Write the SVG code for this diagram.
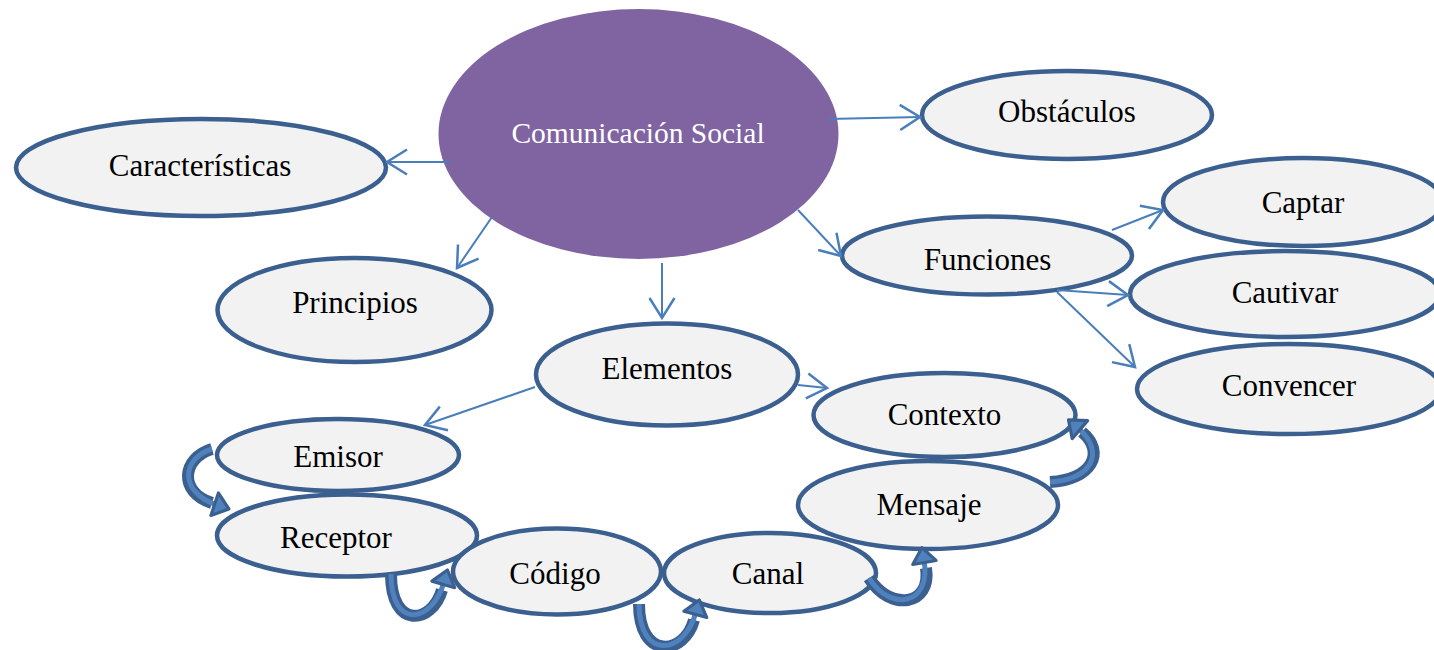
<svg xmlns="http://www.w3.org/2000/svg" width="1434" height="650" viewBox="0 0 1434 650">
<style>
.node{fill:#F2F2F2;stroke:#3B5F8F;stroke-width:4.5}
.root{fill:#8064A2}
.t{font-family:"Liberation Serif","Times New Roman",serif;font-size:31px;fill:#000;text-anchor:middle}
.tw{font-family:"Liberation Serif","Times New Roman",serif;font-size:29.5px;fill:#FFFFFF;text-anchor:middle}
.ln{fill:none;stroke:#4A7EBB;stroke-width:2;marker-end:url(#open)}
.bo{fill:none;stroke:#3B5F8F;stroke-width:12}
.bi{fill:none;stroke:#4F81BD;stroke-width:5;marker-end:url(#block)}
</style>
<defs>
<marker id="open" markerUnits="userSpaceOnUse" markerWidth="30" markerHeight="30" viewBox="-20 -12 24 24" refX="0" refY="0" orient="auto">
<path d="M-16,-10 L0,0 L-16,10" fill="none" stroke="#4A7EBB" stroke-width="2"/>
</marker>
<marker id="block" markerUnits="userSpaceOnUse" markerWidth="40" markerHeight="40" viewBox="-6 -16 26 32" refX="2" refY="0" orient="auto">
<path d="M0,-9.5 L12,0 L0,9.5 Z" fill="#4F81BD" stroke="#3B5F8F" stroke-width="2.5" stroke-linejoin="round"/>
</marker>
</defs>
<g id="n-comunicacion"><ellipse class="root" cx="638.5" cy="134" rx="200" ry="125"/><text class="tw" x="638" y="143">Comunicación Social</text></g>
<g id="n-caracteristicas"><ellipse class="node" cx="201" cy="167.5" rx="185" ry="48.5"/><text class="t" x="200" y="176">Características</text></g>
<g id="n-principios"><ellipse class="node" cx="354.5" cy="310" rx="137" ry="52"/><text class="t" x="355" y="313">Principios</text></g>
<g id="n-obstaculos"><ellipse class="node" cx="1067" cy="115" rx="145" ry="44"/><text class="t" x="1067" y="122">Obstáculos</text></g>
<g id="n-funciones"><ellipse class="node" cx="987" cy="255.5" rx="145" ry="39"/><text class="t" x="987.5" y="270">Funciones</text></g>
<g id="n-captar"><ellipse class="node" cx="1303" cy="202" rx="140" ry="44"/><text class="t" x="1303" y="213">Captar</text></g>
<g id="n-cautivar"><ellipse class="node" cx="1285" cy="294" rx="155" ry="43"/><text class="t" x="1285" y="303">Cautivar</text></g>
<g id="n-convencer"><ellipse class="node" cx="1289" cy="389" rx="152" ry="45"/><text class="t" x="1289" y="396">Convencer</text></g>
<g id="n-elementos"><ellipse class="node" cx="667" cy="374.5" rx="131" ry="51"/><text class="t" x="667" y="379">Elementos</text></g>
<g id="n-contexto"><ellipse class="node" cx="944.5" cy="415" rx="131" ry="42"/><text class="t" x="944.5" y="425">Contexto</text></g>
<g id="n-emisor"><ellipse class="node" cx="338" cy="455" rx="121" ry="36"/><text class="t" x="338" y="467">Emisor</text></g>
<g id="n-receptor"><ellipse class="node" cx="347" cy="535.5" rx="130" ry="41"/><text class="t" x="336" y="548">Receptor</text></g>
<g id="n-mensaje"><ellipse class="node" cx="928" cy="505" rx="130" ry="44"/><text class="t" x="929" y="515">Mensaje</text></g>
<g id="n-codigo"><ellipse class="node" cx="557" cy="571.5" rx="104" ry="43"/><text class="t" x="555" y="584">Código</text></g>
<g id="n-canal"><ellipse class="node" cx="770" cy="573" rx="106" ry="40"/><text class="t" x="768" y="584">Canal</text></g>
<g id="connectors">
<line class="ln" x1="450" y1="162" x2="387" y2="162"/>
<line class="ln" x1="492" y1="217" x2="457" y2="268"/>
<line class="ln" x1="662" y1="263" x2="662" y2="318"/>
<line class="ln" x1="828" y1="119" x2="920" y2="117"/>
<line class="ln" x1="798" y1="210" x2="841" y2="256"/>
<line class="ln" x1="1112" y1="230" x2="1163" y2="210"/>
<line class="ln" x1="1057" y1="290" x2="1128" y2="295"/>
<line class="ln" x1="1057" y1="292" x2="1135" y2="367"/>
<line class="ln" x1="535" y1="387" x2="425" y2="425"/>
<line class="ln" x1="798" y1="385" x2="827" y2="388"/>
<path class="bo" d="M212,449 C182,458 178,492 212,503"/>
<path class="bi" d="M212,449 C182,458 178,492 217,505"/>
<path class="bo" d="M391,574 C391,630 432,624 442,590"/>
<path class="bi" d="M391,574 C391,630 432,624 444,582"/>
<path class="bo" d="M639,604 C639,660 684,656 694,620"/>
<path class="bi" d="M639,604 C639,660 684,656 696,612"/>
<path class="bo" d="M869,578 C890,612 932,606 926,568"/>
<path class="bi" d="M869,578 C890,612 932,606 924,560"/>
<path class="bo" d="M1050,482 C1092,480 1106,452 1082,432"/>
<path class="bi" d="M1050,482 C1092,480 1106,452 1078,428"/>
</g>
</svg>
